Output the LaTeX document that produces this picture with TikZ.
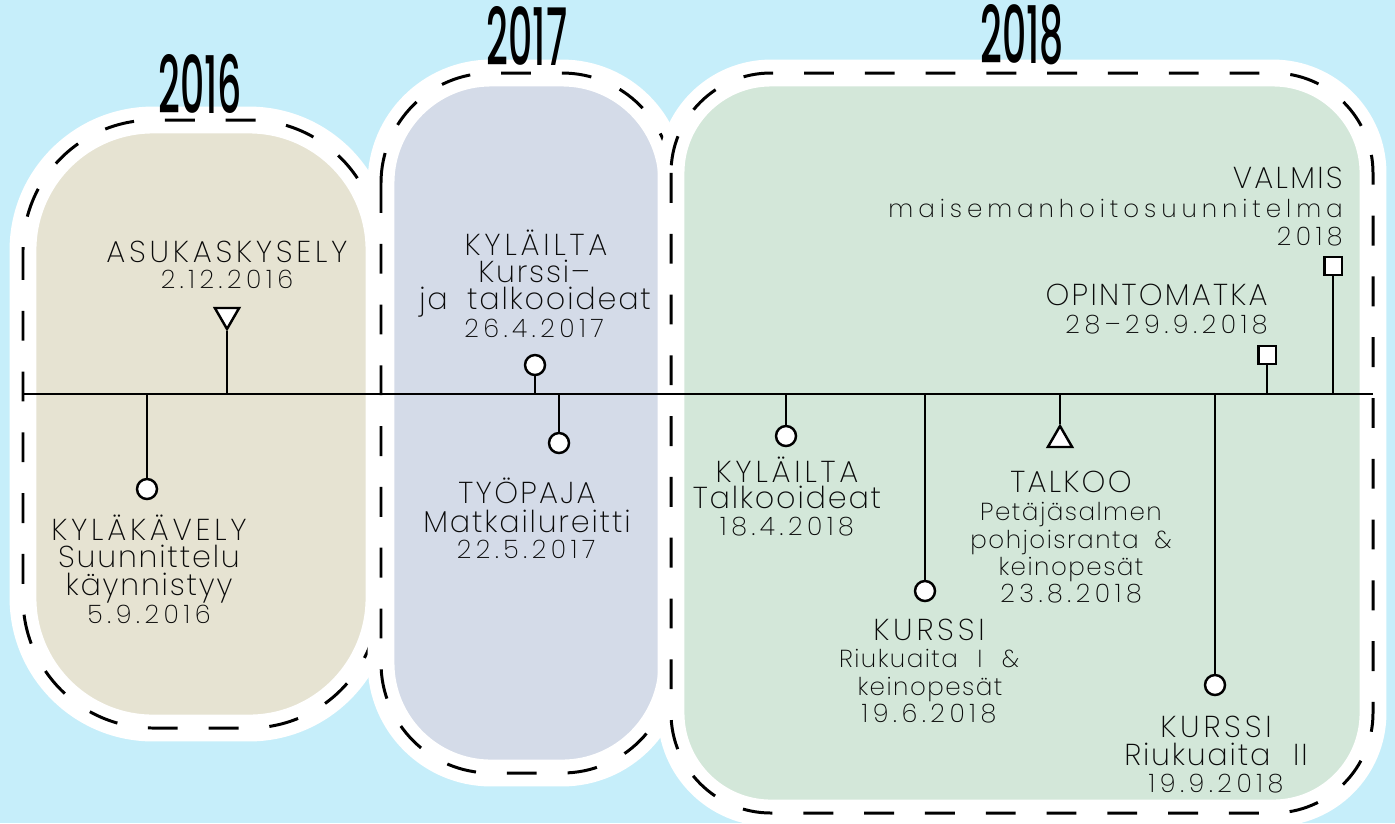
\documentclass[tikz,border=0pt]{standalone}
\usepackage{fontspec}
\usepackage{graphicx}
\usetikzlibrary{shapes.geometric}
\setmainfont{Poppins}[UprightFont=* Light]
\newfontfamily\capfont{Poppins}[UprightFont=* ExtraLight, LetterSpace=12.5]
\newfontfamily\capnfont{Poppins}[UprightFont=* ExtraLight, LetterSpace=7.5]
\newfontfamily\lowfont{Poppins}[UprightFont=* ExtraLight, LetterSpace=6]
\newfontfamily\smfont{Poppins}[UprightFont=* ExtraLight, LetterSpace=6]
\newfontfamily\datefont{Poppins}[UprightFont=* ExtraLight, LetterSpace=18]
\newfontfamily\widefont{Poppins}[UprightFont=* ExtraLight, LetterSpace=20]
\newfontfamily\yrfont{Poppins}[UprightFont=* Medium]
\definecolor{bg}{RGB}{198,238,250}
\definecolor{c16}{RGB}{230,227,210}
\definecolor{c17}{RGB}{212,219,232}
\definecolor{c18}{RGB}{211,231,217}
\definecolor{ink}{RGB}{10,10,10}
\newcommand\fcap{\capfont\fontsize{17.2}{20}\selectfont}
\newcommand\fcapn{\capnfont\fontsize{17.2}{20}\selectfont}
\newcommand\flow{\lowfont\fontsize{17.2}{20}\selectfont}
\newcommand\fsm{\smfont\fontsize{14}{16}\selectfont}
\newcommand\fdt{\datefont\fontsize{14.5}{16}\selectfont}
\newcommand\fwide{\widefont\fontsize{14}{16}\selectfont}
\newcommand\fyr{\yrfont\fontsize{43}{45}\selectfont}
\tikzset{
  band/.style={draw=white, line width=15.3pt, rounded corners=#1},
  dashline/.style={draw=black, line width=1.7pt, dash pattern=on 17pt off 17.6pt, rounded corners=#1},
  stem/.style={draw=black, line width=1.15pt},
  circ/.style={circle, draw=black, fill=white, line width=1.4pt, minimum size=0.4cm, inner sep=0pt},
  sqm/.style={rectangle, draw=black, fill=white, line width=1.4pt, minimum size=0.35cm, inner sep=0pt},
  trim/.style={regular polygon, regular polygon sides=3, draw=black, fill=white, line width=1.4pt, minimum size=0.56cm, inner sep=0pt},
  tx/.style={anchor=base, inner sep=0pt, text=ink},
  txr/.style={anchor=base east, inner sep=0pt, text=ink},
  yr/.style={anchor=base, inner sep=0pt, text=black}
}
\begin{document}
\begin{tikzpicture}[x=0.02cm, y=-0.02cm]
\fill[bg] (0,0) rectangle (1395,823);
\useasboundingbox (0,0) rectangle (1395,823);
% year boxes
\path[band=2.6cm, fill=c16] (23,120) rectangle (379,728);
\path[dashline=2.6cm] (23,120) rectangle (379,728);
\path[band=2.2cm, fill=c17] (381,73) rectangle (672,773);
\path[dashline=2.2cm] (381,73) rectangle (672,773);
\path[band=2.0cm, fill=c18] (671,73) rectangle (1373,813);
\path[dashline=2.0cm] (671,73) rectangle (1373,813);
% year labels
\node[yr, font=\fyr] (y16) at (200,113) {\scalebox{0.5}[1.05]{2016}};
\node[yr, font=\fyr] (y17) at (527,65) {\scalebox{0.5}[1.05]{2017}};
\node[yr, font=\fyr] (y18) at (1022,63) {\scalebox{0.5}[1.05]{2018}};
% timeline
\coordinate (tl) at (23,394);
\coordinate (tr) at (1373,394);
\draw[stem] (tl) -- (tr);
\coordinate (p1) at (147,394);
\coordinate (p2) at (227,394);
\coordinate (p3) at (535,394);
\coordinate (p4) at (559,394);
\coordinate (p5) at (786,394);
\coordinate (p6) at (925,394);
\coordinate (p7) at (1060,394);
\coordinate (p8) at (1215,394);
\coordinate (p9) at (1267,394);
\coordinate (p10) at (1333,394);
% markers
\node[circ] (m1) at (147,489) {};
\node[trim, shape border rotate=180] (m2) at (227,315) {};
\node[circ] (m3) at (535,365) {};
\node[circ] (m4) at (559,443) {};
\node[circ] (m5) at (786,436) {};
\node[circ] (m6) at (925,591) {};
\node[trim] (m7) at (1060,440) {};
\node[circ] (m8) at (1215,685) {};
\node[sqm] (m9) at (1267,355) {};
\node[sqm] (m10) at (1333,266) {};
\foreach \i in {1,...,10} {\draw[stem] (p\i) -- (m\i);}
% texts 2016
\node[tx, font=\fcap] (a1) at (227,262) {ASUKASKYSELY};
\node[tx, font=\fdt] (a2) at (227,288) {2.12.2016};
\node[tx, font=\fcap] (b1) at (149,540) {KYLÄKÄVELY};
\node[tx, font=\flow] (b2) at (149,567) {Suunnittelu};
\node[tx, font=\flow] (b3) at (149,595) {käynnistyy};
\node[tx, font=\fdt] (b4) at (149,623) {5.9.2016};
% texts 2017
\node[tx, font=\fcap] (c1) at (536,255) {KYLÄILTA};
\node[tx, font=\flow] (c2) at (534,282) {Kurssi–};
\node[tx, font=\flow] (c3) at (535,309) {ja\hspace{11pt}talkooideat};
\node[tx, font=\fdt] (c4) at (534,337) {26.4.2017};
\node[tx, font=\fcapn] (d1) at (527,503) {TYÖPAJA};
\node[tx, font=\flow] (d2) at (527,532) {Matkailureitti};
\node[tx, font=\fdt] (d3) at (526,558) {22.5.2017};
% texts 2018
\node[tx, font=\fcap] (e1) at (787,482) {KYLÄILTA};
\node[tx, font=\flow] (e2) at (787,508) {Talkooideat};
\node[tx, font=\fdt] (e3) at (787,535) {18.4.2018};
\node[tx, font=\fcapn] (f1) at (1071,492) {TALKOO};
\node[tx, font=\fsm] (f2) at (1071,520) {Petäjäsalmen};
\node[tx, font=\fsm] (f3) at (1071,548) {pohjoisranta\hspace{9pt}\&};
\node[tx, font=\fsm] (f4) at (1071,575) {keinopesät};
\node[tx, font=\fdt] (f5) at (1071,602) {23.8.2018};
\node[tx, font=\fcap] (g1) at (929,640) {KURSSI};
\node[tx, font=\fsm] (g2) at (929,667) {Riukuaita\hspace{11pt}I\hspace{11pt}\&};
\node[tx, font=\fsm] (g3) at (930,695) {keinopesät};
\node[tx, font=\fdt] (g4) at (929,722) {19.6.2018};
\node[tx, font=\fcap] (h1) at (1216,737) {KURSSI};
\node[tx, font=\flow] (h2) at (1216,765) {Riukuaita\hspace{13pt}II};
\node[tx, font=\fdt] (h3) at (1216,792) {19.9.2018};
\node[txr, font=\fcapn] (i1) at (1268,305) {OPINTOMATKA};
\node[txr, font=\fdt] (i2) at (1268,333) {28–29.9.2018};
\node[txr, font=\fcapn] (j1) at (1343,188) {VALMIS};
\node[txr, font=\fwide] (j2) at (1343,217) {maisemanhoitosuunnitelma};
\node[txr, font=\fdt] (j3) at (1343,245) {2018};
\end{tikzpicture}
\end{document}
